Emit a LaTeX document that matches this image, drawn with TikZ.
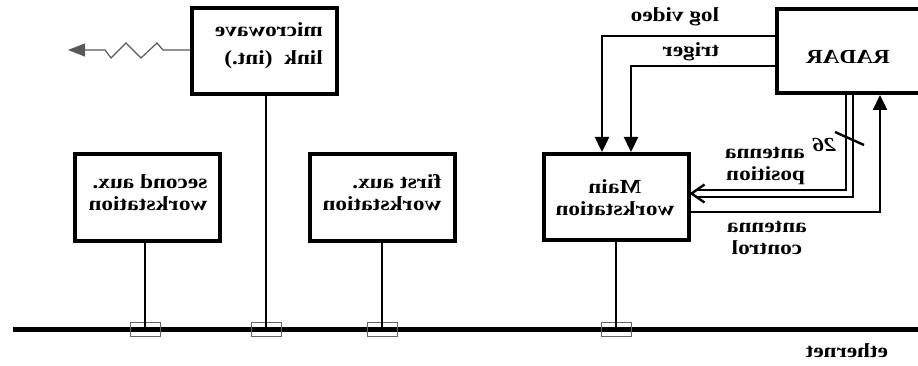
\documentclass[tikz,border=0pt]{standalone}
\usepackage{fontspec}
\setmainfont{Liberation Serif}
\usetikzlibrary{arrows.meta,calc}
\newcommand{\mir}[1]{\scalebox{-1.16}[1]{#1}}
\begin{document}
\begin{tikzpicture}[x=1pt,y=-1pt,
  box/.style={draw,line width=4pt,minimum width=145pt,minimum height=86pt,inner sep=0pt},
  txt/.style={inner sep=0pt,font=\bfseries\fontsize{20}{21.5}\selectfont},
  conn/.style={line width=2.4pt},
  arr/.style={conn,-{Triangle[length=15pt,width=14pt]}},
  dbl/.style={line width=2.2pt,double=white,double distance=4.8pt},
  tap/.style={draw=black!60,line width=1pt,minimum width=30pt,minimum height=14pt,inner sep=0pt},
  zz/.style={draw=black!65,line width=1.2pt,-{Triangle[length=17pt,width=13pt]}}]
\useasboundingbox (0,0) rectangle (918,366);
\clip (0,0) rectangle (918,366);
% boxes
\node[box] (mw) at (264.5,51.5) {};
\node[box] (aux2) at (147.5,197.5) {};
\node[box] (aux1) at (382,197.5) {};
\node[box] (main) at (616,197) {};
\node[box,minimum width=200pt,minimum height=84pt] (radar) at (877,51) {};
% box texts
\node[txt] (tmw) at (269,46) {\mir{\begin{tabular}{@{}l@{}}microwave\\[7pt]link\ \ (int.)\end{tabular}}};
\node[txt] (taux2) at (148,195) {\mir{\begin{tabular}{@{}l@{}}second aux.\\workstation\end{tabular}}};
\node[txt] (taux1) at (382,195) {\mir{\begin{tabular}{@{}l@{}}first aux.\\workstation\end{tabular}}};
\node[txt] (tmain) at (615,200) {\mir{\begin{tabular}{@{}c@{}}Main\\workstation\end{tabular}}};
\node[txt] (tradar) at (848,57) {\mir{RADAR}};
% connector labels
\node[txt] (llv) at (675,17) {\mir{log video}};
\node[txt] (ltr) at (691,52) {\mir{triger}};
\node[txt] (l26) at (824,145) {\mir{\textit{26}}};
\node[txt] (lap) at (765,165) {\mir{\begin{tabular}{@{}l@{}}antenna\\position\end{tabular}}};
\node[txt] (lac) at (767,239) {\mir{\begin{tabular}{@{}c@{}}antenna\\control\end{tabular}}};
\node[txt] (leth) at (847,351) {\mir{ethernet}};
% ethernet
\coordinate (ethL) at (13,329.5);
\coordinate (ethR) at (930,329.5);
\coordinate (e1) at (145,329.5);
\coordinate (e2) at (266,329.5);
\coordinate (e3) at (382,329.5);
\coordinate (e4) at (616,329.5);
\draw[line width=5pt] (ethL) -- (ethR);
\foreach \t in {e1,e2,e3,e4} \node[tap] at (\t) {};
\draw[conn] (aux2.south -| e1) -- (e1);
\draw[conn] (mw.south -| e2) -- (e2);
\draw[conn] (aux1.south -| e3) -- (e3);
\draw[conn] (main.south -| e4) -- (e4);
% microwave radio link
\coordinate (mwend) at (68,50);
\draw[zz] (mw.west |- mwend) -- (163,50) -- (157,43) -- (141,58) -- (126,43) -- (111,58) -- (105,50) -- (mwend);
% log video and trigger
\coordinate (lvy) at (0,36);
\coordinate (lvx) at (602,0);
\coordinate (try) at (0,66);
\coordinate (trx) at (631,0);
\draw[arr] (radar.west |- lvy) -- (lvx |- lvy) -- (main.north -| lvx);
\draw[arr] (radar.west |- try) -- (trx |- try) -- (main.north -| trx);
% antenna position (26 lines)
\coordinate (apx) at (849.5,0);
\coordinate (apy) at (0,193.5);
\coordinate (aptip) at (main.east |- apy);
\draw[dbl] (radar.south -| apx) -- (apx |- apy) -- ($(aptip)+(5,0)$);
\draw[conn,line join=miter] ($(aptip)+(14,-9)$) -- ($(aptip)+(1,0)$) -- ($(aptip)+(14,9)$);
\coordinate (s1) at (835,132);
\coordinate (s2) at (864,145);
\draw[conn] (s1) -- (s2);
% antenna control
\coordinate (acx) at (880,0);
\coordinate (acy) at (0,212);
\draw[arr] (main.east |- acy) -- (acx |- acy) -- (radar.south -| acx);
\end{tikzpicture}
\end{document}
